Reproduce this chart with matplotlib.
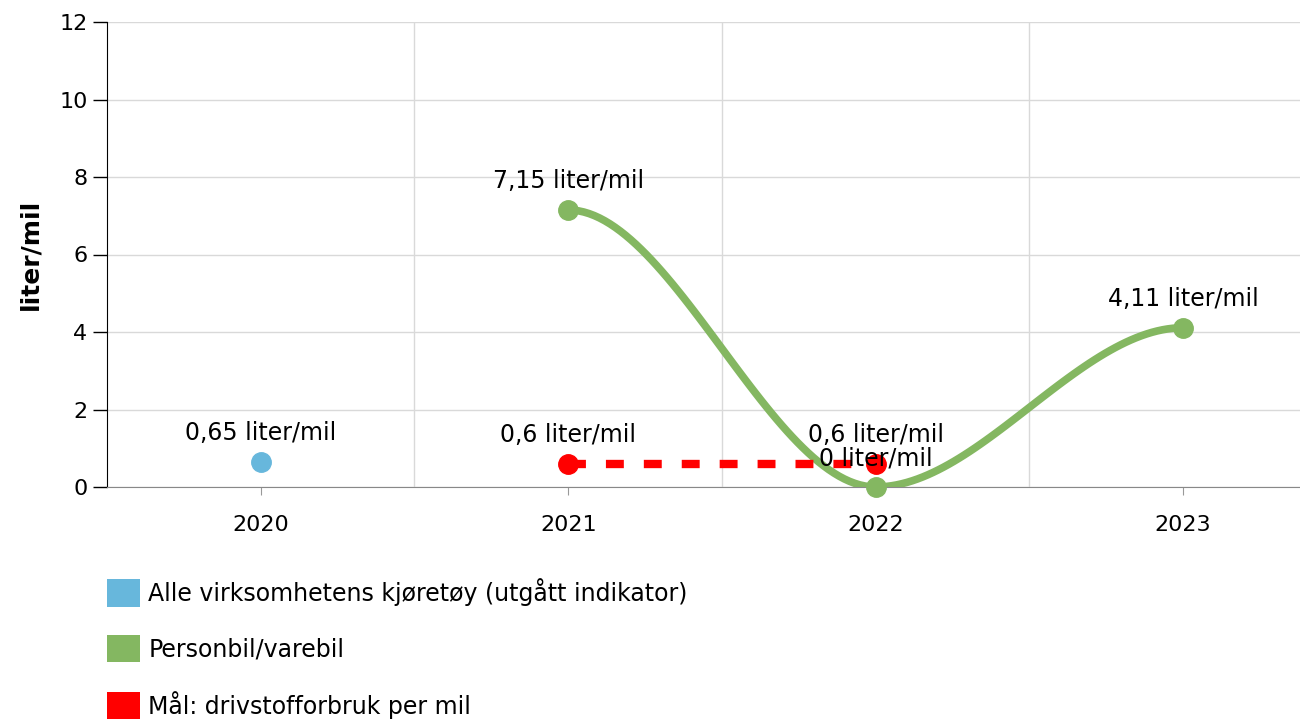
import numpy as np
import matplotlib
matplotlib.use("Agg")
import matplotlib.pyplot as plt
from matplotlib.patches import Patch

# data
years = ["2020", "2021", "2022", "2023"]
alle_x = [0]
alle_y = [0.65]
person_x = [1, 2, 3]
person_y = [7.15, 0.0, 4.11]
maal_x = [1, 2]
maal_y = [0.6, 0.6]
legend_labels = ["Alle virksomhetens kjøretøy (utgått indikator)",
                 "Personbil/varebil",
                 "Mål: drivstofforbruk per mil"]

c_blue = "#67b7dc"
c_green = "#84b761"
c_red = "#ff0000"
FS = 16
FS_TXT = 17


def fmt(v):
    s = ("%g" % v).replace(".", ",")
    return s + " liter/mil"


def smooth(xs, ys, n=60):
    # cubic hermite with flat tangents at each point
    out_x, out_y = [], []
    for i in range(len(xs) - 1):
        t = np.linspace(0, 1, n)
        h = 3 * t**2 - 2 * t**3
        out_x.extend(xs[i] + (xs[i + 1] - xs[i]) * t)
        out_y.extend(ys[i] + (ys[i + 1] - ys[i]) * h)
    return out_x, out_y


plt.rcParams['font.family'] = ['DejaVu Sans']
fig = plt.figure(figsize=(13, 7.22), dpi=100)
ax = fig.add_axes([107 / 1300, 235 / 722, 1 - 107 / 1300, 465 / 722])

ax.set_xlim(-0.5, 3.38)
ax.set_ylim(0, 12)
ax.set_yticks(range(0, 13, 2))
ax.set_xticks(range(len(years)))
ax.set_xticklabels(years)
ax.set_xticks([0.5, 1.5, 2.5], minor=True)
ax.grid(True, which="minor", axis="x", color="#d9d9d9", lw=1)
ax.grid(True, which="major", axis="y", color="#d9d9d9", lw=1)
ax.set_axisbelow(True)
ax.tick_params(axis="x", which="major", length=6, color="#999999", labelsize=FS, pad=14)
ax.tick_params(axis="x", which="minor", length=0)
ax.tick_params(axis="y", length=10, width=1, labelsize=FS, pad=4)
for s in ["top", "right"]:
    ax.spines[s].set_visible(False)
ax.spines["left"].set_color("black")
ax.spines["bottom"].set_color("#888888")
ax.set_ylabel("liter/mil", fontsize=18, fontweight="bold", labelpad=12)

# green series
sx, sy = smooth(person_x, person_y)
ax.plot(sx, sy, color=c_green, lw=5.5, zorder=3, solid_capstyle="round")
ax.plot(person_x, person_y, "o", color=c_green, ms=14, zorder=4, clip_on=False)

# red target
ax.plot(maal_x, maal_y, color=c_red, lw=6, dashes=(2.15, 2.4), zorder=5)
ax.plot(maal_x, maal_y, "o", color=c_red, ms=14, zorder=6, clip_on=False)

# blue
ax.plot(alle_x, alle_y, "o", color=c_blue, ms=14, zorder=4, clip_on=False)

for xs, ys in [(alle_x, alle_y), (person_x, person_y), (maal_x, maal_y)]:
    for x, y in zip(xs, ys):
        ax.annotate(fmt(y), (x, y), xytext=(0, 12), textcoords="offset points",
                    ha="center", va="bottom", fontsize=FS_TXT, zorder=7)

handles = [Patch(facecolor=c, edgecolor="none") for c in [c_blue, c_green, c_red]]
fig.legend(handles, legend_labels, loc="upper left",
           bbox_to_anchor=(107 / 1300, 1 - 578 / 722), frameon=False,
           fontsize=FS_TXT, handlelength=1.4, handleheight=1.4,
           handletextpad=0.35, labelspacing=1.2, borderpad=0, borderaxespad=0)

fig.savefig("out.png", dpi=100)
